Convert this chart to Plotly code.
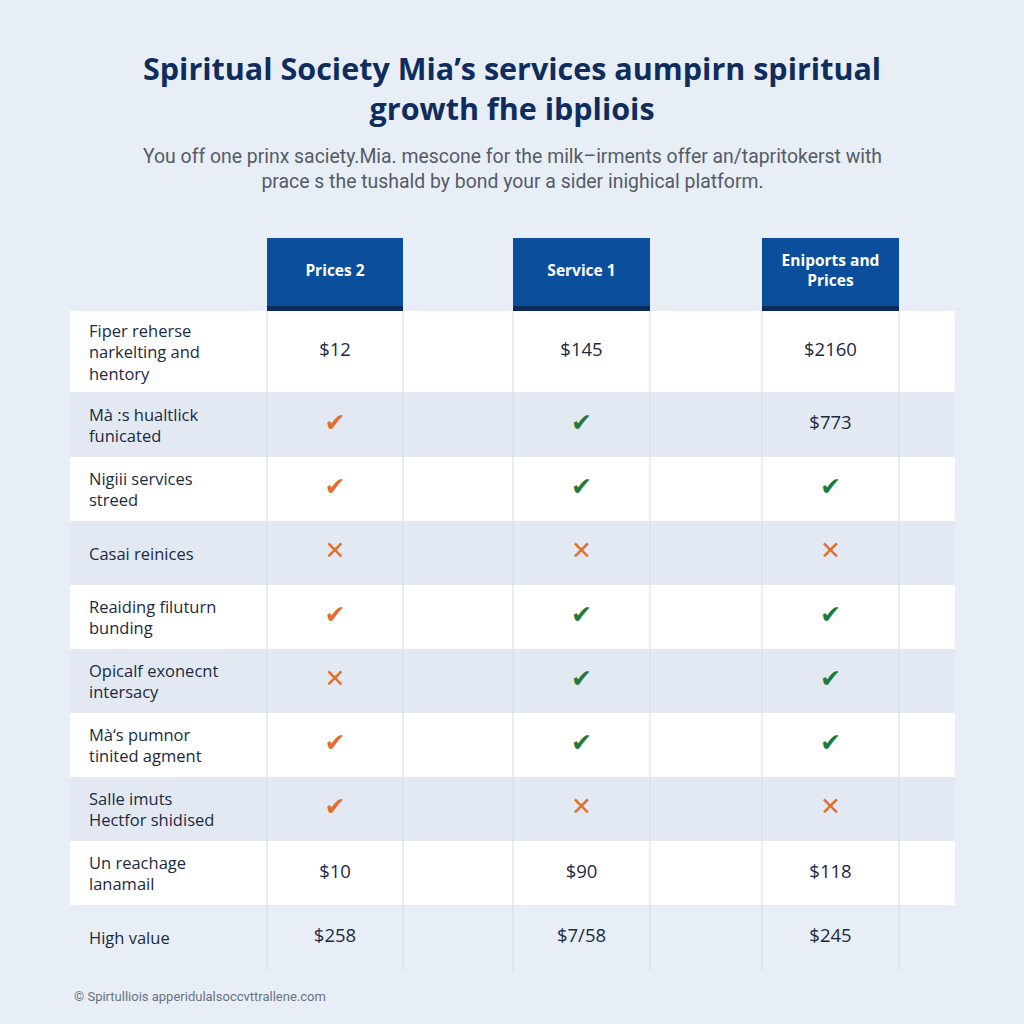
import plotly.graph_objects as go

# ---- data ----
features = [
    "Fiper reherse<br>narkelting and<br>hentory",
    "Mà :s hualtlick<br>funicated",
    "Nigiii services<br>streed",
    "Casai reinices",
    "Reaiding filuturn<br>bunding",
    "Opicalf exonecnt<br>intersacy",
    "Mà‘s pumnor<br>tinited agment",
    "Salle imuts<br>Hectfor shidised",
    "Un reachage<br>lanamail",
    "High value",
]
col_headers = ["Prices 2", "Service 1", "Eniports and<br>Prices"]
prices_2 = ["$12", "yes", "yes", "no", "yes", "no", "yes", "yes", "$10", "$258"]
service_1 = ["$145", "yes", "yes", "no", "yes", "yes", "yes", "no", "$90", "$7/58"]
eniports = ["$2160", "$773", "yes", "no", "yes", "yes", "yes", "no", "$118", "$245"]
columns = [prices_2, service_1, eniports]

title = "Spiritual Society Mia’s services aumpirn spiritual<br>growth fhe ibpliois"
subtitle = ("You off one prinx saciety.Mia. mescone for the milk–irments offer an/tapritokerst with<br>"
            "prace s the tushald by bond your a sider inighical platform.")
footer = "© Spirtulliois apperidulalsoccvttrallene.com"

# ---- layout (pixels) ----
BG = "#e8eef6"
BAND = "#e2e9f2"
NAVY = "#0f2d5c"
BLUE = "#0b4f9c"
ORANGE = "#e0702e"
GREEN = "#1f7a3c"
TEXT = "#1b2a40"

row_edges = [311, 392, 457, 521, 585, 649, 713, 777, 841, 905, 970]
col_edges = [(267, 403), (513, 650), (762, 899)]
col_x = [(a + b) / 2 for a, b in col_edges]
row_y = [(row_edges[i] + row_edges[i + 1]) / 2 for i in range(len(features))]

fig = go.Figure()
shapes = []
for i in range(len(features)):
    fill = "white" if i % 2 == 0 else BAND
    if i == len(features) - 1:
        fill = BG
    shapes.append(dict(type="rect", x0=70, x1=955, y0=row_edges[i], y1=row_edges[i + 1],
                       fillcolor=fill, line_width=0, layer="below"))
for a, b in col_edges:
    for xv in (a, b):
        shapes.append(dict(type="line", x0=xv, x1=xv, y0=311, y1=970,
                           line=dict(color="#d3dbe5", width=1), layer="below"))
    shapes.append(dict(type="rect", x0=a, x1=b, y0=238, y1=306, fillcolor=BLUE,
                       line_width=0, layer="below"))
    shapes.append(dict(type="rect", x0=a, x1=b, y0=306, y1=311, fillcolor="#0a2a5c",
                       line_width=0, layer="below"))

# header text
fig.add_trace(go.Scatter(x=col_x, y=[272] * 3, mode="text", text=col_headers,
                         textfont=dict(family="Open Sans", size=15.5, color="white", weight="bold"),
                         hoverinfo="skip"))

# cell values
for ci, col in enumerate(columns):
    for kind, sym, size in (("yes", "✔", 25), ("no", "✕", 25)):
        idx = [i for i, v in enumerate(col) if v == kind]
        colour = ORANGE if (kind == "no" or ci == 0) else GREEN
        fig.add_trace(go.Scatter(x=[col_x[ci]] * len(idx), y=[row_y[i] for i in idx],
                                 mode="text", text=[sym] * len(idx),
                                 textfont=dict(family="DejaVu Sans", size=size, color=colour, weight="bold"),
                                 hoverinfo="skip"))
    idx = [i for i, v in enumerate(col) if v not in ("yes", "no")]
    fig.add_trace(go.Scatter(x=[col_x[ci]] * len(idx), y=[row_y[i] for i in idx],
                             mode="text", text=[col[i] for i in idx],
                             textfont=dict(family="Open Sans", size=18.5, color=TEXT),
                             hoverinfo="skip"))

annotations = []
for i, f in enumerate(features):
    annotations.append(dict(x=87, y=row_y[i], text=f, showarrow=False, xanchor="left",
                            yanchor="middle", align="left",
                            font=dict(family="Open Sans", size=16.5, color=TEXT)))
annotations.append(dict(x=512, y=88, text=title, showarrow=False, xanchor="center", yanchor="middle",
                        font=dict(family="Open Sans", size=30.5, color=NAVY, weight="bold")))
annotations.append(dict(x=512, y=169, text=subtitle, showarrow=False, xanchor="center", yanchor="middle",
                        font=dict(family="Roboto", size=19.4, color="#555b66")))
annotations.append(dict(x=72, y=996, text=footer, showarrow=False, xanchor="left", yanchor="middle",
                        font=dict(family="Roboto", size=13, color="#6a7380")))

fig.update_layout(width=1024, height=1024, margin=dict(l=0, r=0, t=0, b=0),
                  paper_bgcolor=BG, plot_bgcolor=BG, showlegend=False,
                  shapes=shapes, annotations=annotations)
fig.update_xaxes(range=[0, 1024], visible=False, fixedrange=True)
fig.update_yaxes(range=[1024, 0], visible=False, fixedrange=True)

fig.write_html("out.html", config={"displayModeBar": False},
               post_script="document.body.style.margin='0';document.body.style.overflow='hidden';")
